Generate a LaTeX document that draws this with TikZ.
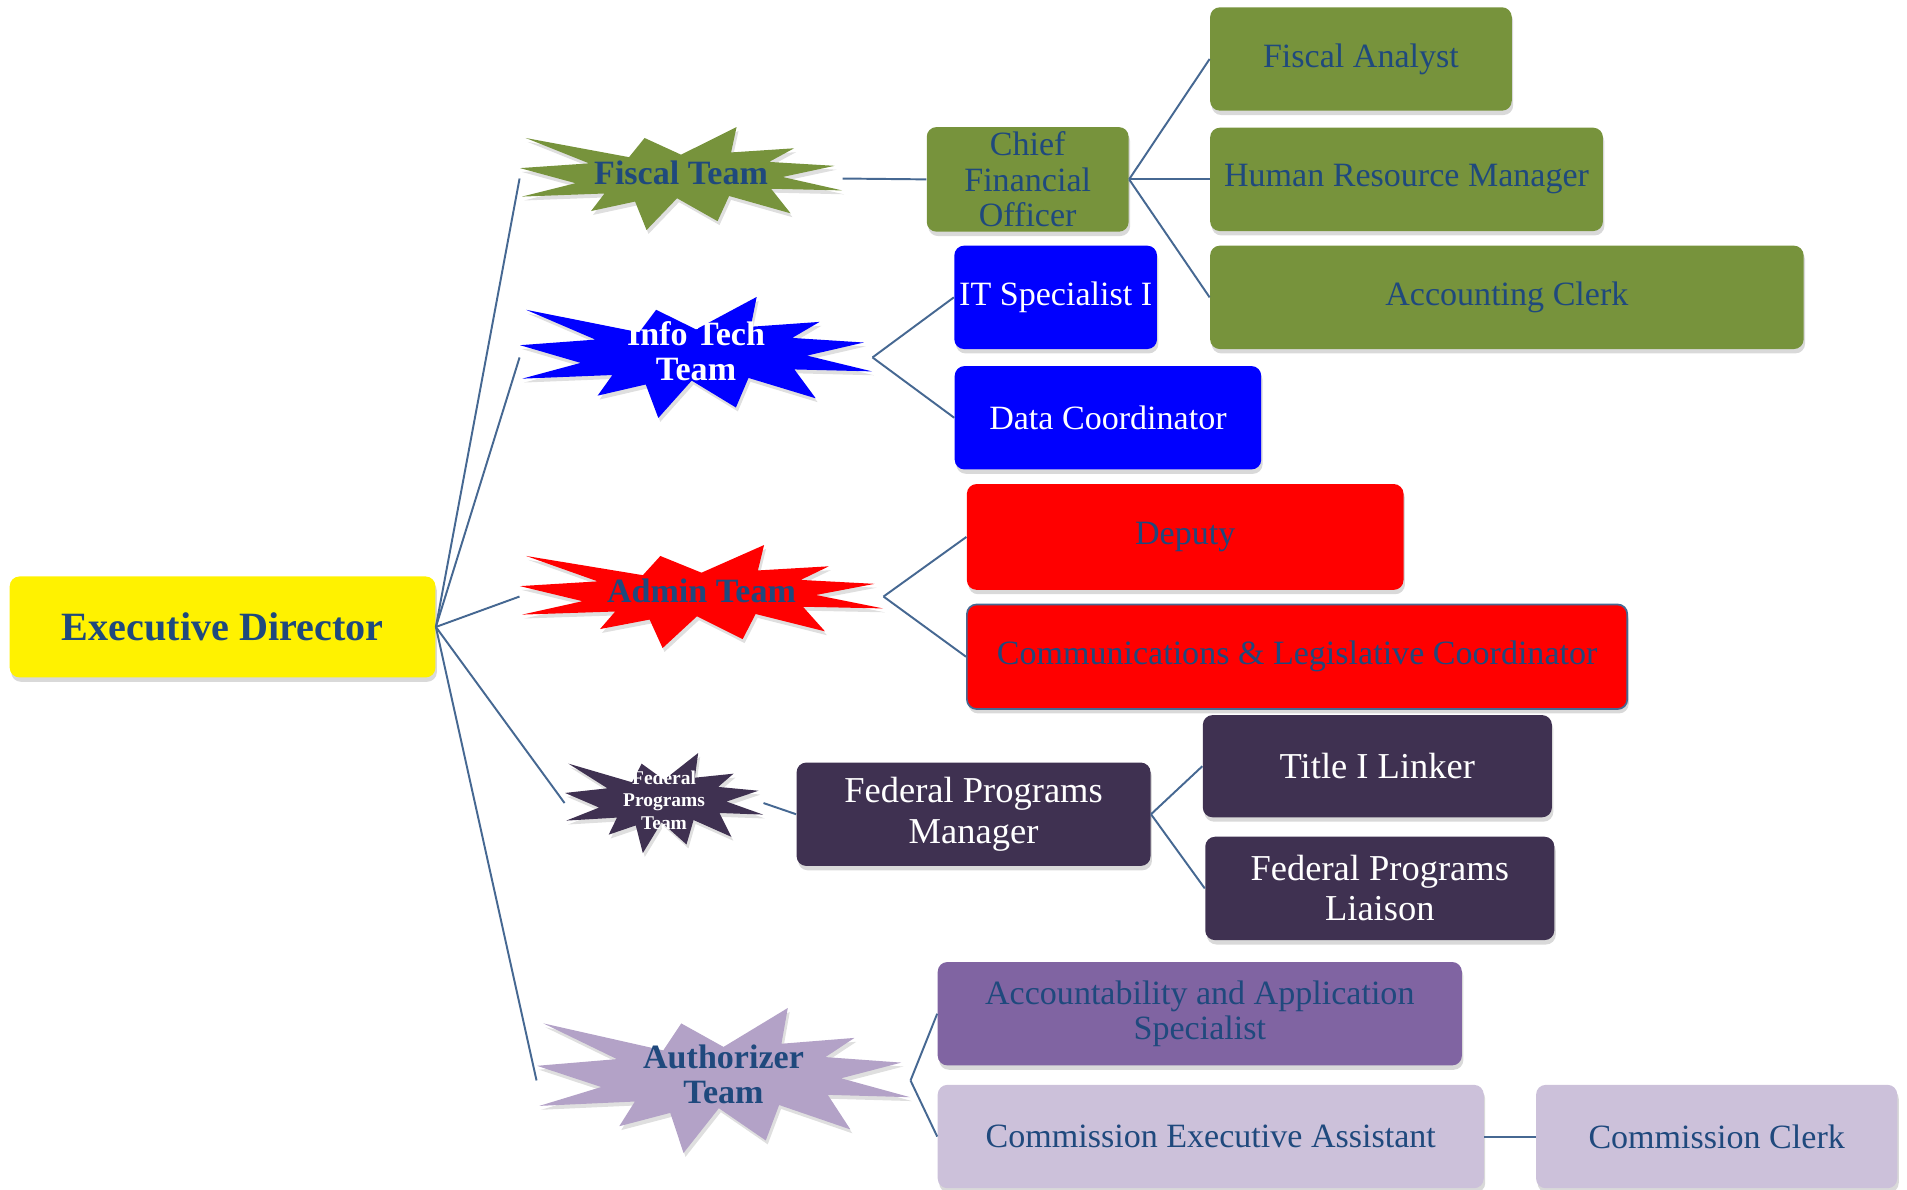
\documentclass[tikz,border=0pt]{standalone}
\usepackage{fontspec}
\setmainfont{Liberation Serif}
\usetikzlibrary{shadows}
\definecolor{txtblue}{HTML}{1F497D}
\definecolor{lnblue}{HTML}{466892}
\definecolor{olive}{HTML}{77933C}
\definecolor{itblue}{HTML}{0000FF}
\definecolor{admred}{HTML}{FF0000}
\definecolor{fedpurple}{HTML}{3F3151}
\definecolor{midpurple}{HTML}{8064A2}
\definecolor{lightpurple}{HTML}{CCC1DA}
\definecolor{starpurple}{HTML}{B3A2C7}

\tikzset{
  box/.style={rectangle, rounded corners=4pt, minimum height=42.5pt, inner sep=2pt,
    align=center, text=txtblue, font=\fontsize{14}{14.5}\selectfont,
    drop shadow={shadow xshift=0.6pt, shadow yshift=-1.8pt, opacity=0.3}},
  wbox/.style={box, text=white},
  fedbox/.style={wbox, fill=fedpurple, font=\fontsize{15}{16.5}\selectfont},
  team/.style={rectangle, inner sep=0pt, align=center, text=txtblue, text depth=5pt,
    font=\bfseries\fontsize{14}{14.5}\selectfont},
  burstshadow/.style={drop shadow={shadow xshift=0.8pt, shadow yshift=-1.6pt, opacity=0.25}}
}

% explosion star: [text opts]{name}{centre}{width}{height}{colour}{text}
\newcommand\burst[7][]{%
  \fill[#6, burstshadow, shift={#3}, xscale=#4/216, yscale=#5/216]
    (0,-50) -- (37.22,-108) -- (33.55,-54.75) -- (75.8,-63.43) -- (59.02,-34.85)
    -- (102.97,-26.63) -- (68.07,-3.25) -- (108,24.9) -- (60.37,21.42)
    -- (73.45,72.95) -- (32.2,36.57) -- (24.47,89.37) -- (-2.68,41.35)
    -- (-23.15,108) -- (-30.85,48.27) -- (-60.38,68.17) -- (-51.33,31.37)
    -- (-106.65,37.87) -- (-70.78,9.75) -- (-108,-21.85) -- (-61.73,-31.83)
    -- (-104.3,-85.05) -- (-34.88,-44.8) -- (-24.48,-85.05) -- cycle;
  \node[team, minimum width=#4*0.5pt, minimum height=#5*0.5pt, #1] (#2) at #3 {#7};
}

\begin{document}
\begin{tikzpicture}[x=0.5pt, y=-0.5pt,
    every edge/.style={draw=lnblue, line width=0.8pt}]
\useasboundingbox (0,0) rectangle (1568,978);

% director
\node[box, fill=yellow, minimum width=175pt, minimum height=41.5pt,
  font=\bfseries\fontsize{16.5}{18}\selectfont] (ed) at (183,515.5) {Executive Director};

% team stars
\burst{fiscal}{(560,146.8)}{264.8}{84.7}{olive}{Fiscal Team}
\burst[text=white]{infotech}{(572.3,293.9)}{289.4}{99.5}{itblue}{Info Tech\\Team}
\burst{admin}{(576.8,490.5)}{298.5}{84.7}{admred}{Admin Team}
\burst[text=white, text depth=2.5pt, font=\bfseries\fontsize{8}{9.25}\selectfont]{federal}{(546,660.3)}{162.8}{82.3}{fedpurple}{Federal\\Programs\\Team}
\burst{authorizer}{(594.9,888.4)}{306.7}{119.2}{starpurple}{Authorizer\\Team}

% fiscal
\node[box, fill=olive, minimum width=83pt] (cfo) at (845,147.5) {Chief\\Financial\\Officer};
\node[box, fill=olive, minimum width=124pt] (analyst) at (1119,48.5) {Fiscal Analyst};
\node[box, fill=olive, minimum width=161.5pt] (hr) at (1156.5,147.5) {Human Resource Manager};
\node[box, fill=olive, minimum width=244pt] (clerk) at (1239,244.5) {Accounting Clerk};

% info tech
\node[wbox, fill=itblue, minimum width=83pt] (itspec) at (868,244.5) {IT Specialist I};
\node[wbox, fill=itblue, minimum width=126pt] (datacoord) at (911,343.5) {Data Coordinator};

% admin
\node[box, fill=admred, minimum width=179.5pt, minimum height=43.5pt] (deputy) at (974.5,441.5) {Deputy};
\node[box, fill=admred, draw=lnblue, line width=0.7pt, minimum width=271.5pt, minimum height=43pt]
  (comms) at (1066.5,540) {Communications \& Legislative Coordinator};

% federal programs
\node[fedbox, minimum width=145.5pt] (fpm) at (800.5,669.5) {Federal Programs\\Manager};
\node[fedbox, minimum width=143.5pt, minimum height=42pt] (linker) at (1132.5,630) {Title I Linker};
\node[fedbox, minimum width=143.5pt] (liaison) at (1134.5,730.5) {Federal Programs\\Liaison};

% authorizer
\node[box, fill=midpurple, minimum width=215.5pt] (aas) at (986.5,833.5) {Accountability and Application\\Specialist};
\node[box, fill=lightpurple, minimum width=224.5pt] (cea) at (995.5,934.5) {Commission Executive Assistant};
\node[box, fill=lightpurple, minimum width=148.5pt] (commclerk) at (1411.5,934.5) {Commission Clerk};

\path
  (ed.east) edge (fiscal.west)
  (ed.east) edge (infotech.west)
  (ed.east) edge (admin.west)
  (ed.east) edge (federal.west)
  (ed.east) edge (authorizer.west)
  (fiscal.east) edge (cfo.west)
  (cfo.east) edge (analyst.west)
  (cfo.east) edge (hr.west)
  (cfo.east) edge (clerk.west)
  (infotech.east) edge (itspec.west)
  (infotech.east) edge (datacoord.west)
  (admin.east) edge (deputy.west)
  (admin.east) edge (comms.west)
  (federal.east) edge (fpm.west)
  (fpm.east) edge (linker.west)
  (fpm.east) edge (liaison.west)
  (authorizer.east) edge (aas.west)
  (authorizer.east) edge (cea.west)
  (cea.east) edge (commclerk.west);
\end{tikzpicture}
\end{document}
